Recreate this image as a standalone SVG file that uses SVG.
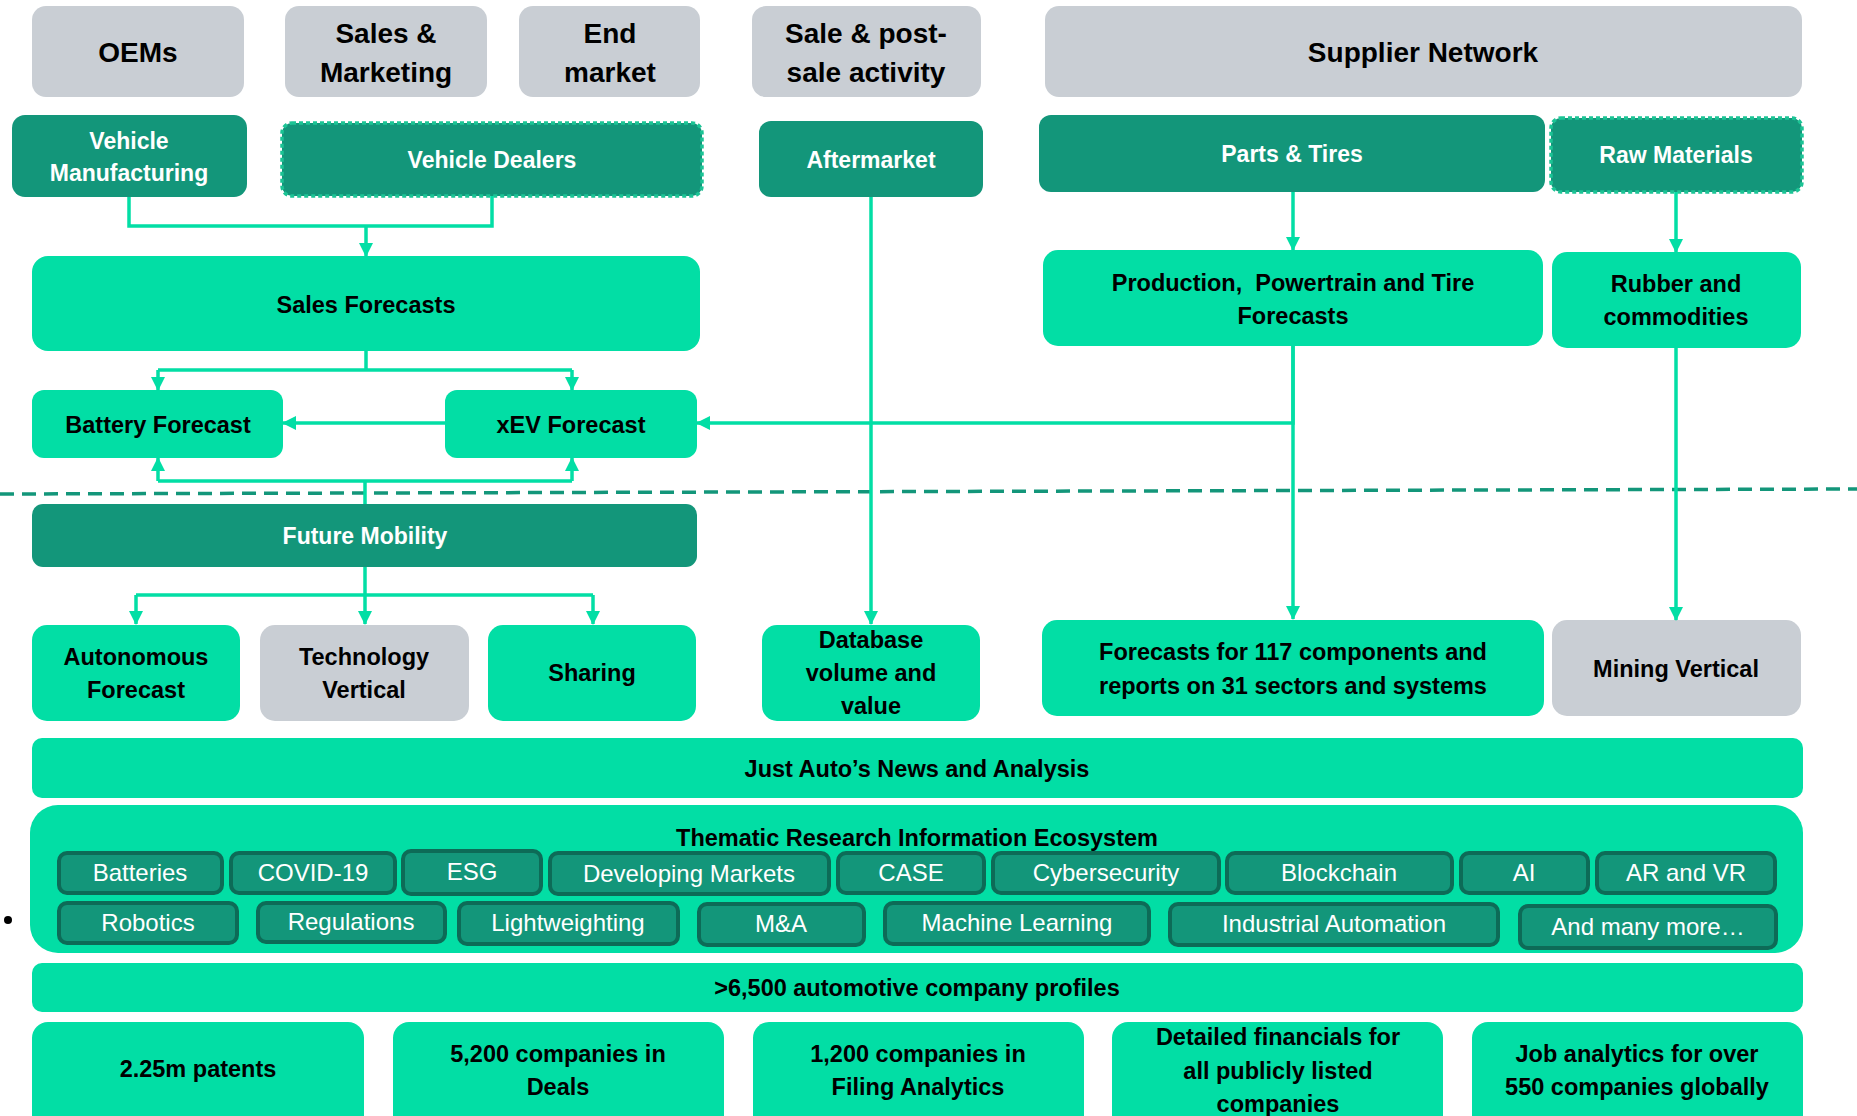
<svg xmlns="http://www.w3.org/2000/svg" width="1857" height="1116" viewBox="0 0 1857 1116">
<defs>
<style>
.hdr{fill:#C9CED4}
.dk{fill:#13967A}
.dkd{fill:#13967A;stroke:#1CC495;stroke-width:3.5;stroke-dasharray:4 3}
.br{fill:#02DEA5}
.gr{fill:#C9CED4}
.tag{fill:#13967A;stroke:#0D6B57;stroke-width:4}
text{font-family:"Liberation Sans",Arial,sans-serif;text-anchor:middle}
.th{font-size:28px;font-weight:bold;fill:#000}
.tw{font-size:23px;font-weight:bold;fill:#fff}
.tb{font-size:23.5px;font-weight:bold;fill:#000}
.tt{font-size:24px;fill:#fff}
.con{fill:none;stroke:#02DEA5;stroke-width:3.5}
.arr{marker-end:url(#ah)}
</style>
<marker id="ah" markerUnits="userSpaceOnUse" markerWidth="14" markerHeight="14" refX="13" refY="7" orient="auto">
<path d="M0,0 L14,7 L0,14 z" fill="#02DEA5"/>
</marker>
</defs>
<rect width="1857" height="1116" fill="#fff"/>

<!-- header row -->
<g id="oems"><rect class="hdr" x="32" y="6" width="212" height="91" rx="14"/><text class="th" x="138" y="62">OEMs</text></g>
<g id="sales-marketing"><rect class="hdr" x="285" y="6" width="202" height="91" rx="14"/><text class="th" x="386" y="43">Sales &amp;</text><text class="th" x="386" y="82">Marketing</text></g>
<g id="end-market"><rect class="hdr" x="519" y="6" width="181" height="91" rx="14"/><text class="th" x="610" y="43">End</text><text class="th" x="610" y="82">market</text></g>
<g id="sale-post"><rect class="hdr" x="752" y="6" width="229" height="91" rx="14"/><text class="th" x="866" y="43">Sale &amp; post-</text><text class="th" x="866" y="82">sale activity</text></g>
<g id="supplier-network"><rect class="hdr" x="1045" y="6" width="757" height="91" rx="14"/><text class="th" x="1423" y="62">Supplier Network</text></g>

<!-- row 2 -->
<g id="vehicle-manufacturing"><rect class="dk" x="12" y="115" width="235" height="82" rx="13"/><text class="tw" x="129" y="149">Vehicle</text><text class="tw" x="129" y="181">Manufacturing</text></g>
<g id="vehicle-dealers"><rect class="dkd" x="282" y="123" width="420" height="73" rx="10"/><text class="tw" x="492" y="168">Vehicle Dealers</text></g>
<g id="aftermarket"><rect class="dk" x="759" y="121" width="224" height="76" rx="12"/><text class="tw" x="871" y="168">Aftermarket</text></g>
<g id="parts-tires"><rect class="dk" x="1039" y="115" width="506" height="77" rx="12"/><text class="tw" x="1292" y="162">Parts &amp; Tires</text></g>
<g id="raw-materials"><rect class="dkd" x="1551" y="118" width="251" height="74" rx="10"/><text class="tw" x="1676" y="163">Raw Materials</text></g>

<!-- forecasts -->
<g id="sales-forecasts"><rect class="br" x="32" y="256" width="668" height="95" rx="16"/><text class="tb" x="366" y="313">Sales Forecasts</text></g>
<g id="production-forecasts"><rect class="br" x="1043" y="250" width="500" height="96" rx="15"/><text class="tb" x="1293" y="291" style="white-space:pre">Production,  Powertrain and Tire</text><text class="tb" x="1293" y="324">Forecasts</text></g>
<g id="rubber-commodities"><rect class="br" x="1552" y="252" width="249" height="96" rx="15"/><text class="tb" x="1676" y="292">Rubber and</text><text class="tb" x="1676" y="325">commodities</text></g>
<g id="battery-forecast"><rect class="br" x="32" y="390" width="251" height="68" rx="12"/><text class="tb" x="158" y="433">Battery Forecast</text></g>
<g id="xev-forecast"><rect class="br" x="445" y="390" width="252" height="68" rx="12"/><text class="tb" x="571" y="433">xEV Forecast</text></g>

<line x1="0" y1="494" x2="1857" y2="489" stroke="#13967A" stroke-width="3.5" stroke-dasharray="14 8"/>

<g id="future-mobility"><rect class="dk" x="32" y="504" width="665" height="63" rx="11"/><text class="tw" x="365" y="544">Future Mobility</text></g>
<g id="autonomous-forecast"><rect class="br" x="32" y="625" width="208" height="96" rx="15"/><text class="tb" x="136" y="665">Autonomous</text><text class="tb" x="136" y="698">Forecast</text></g>
<g id="technology-vertical"><rect class="gr" x="260" y="625" width="209" height="96" rx="15"/><text class="tb" x="364" y="665">Technology</text><text class="tb" x="364" y="698">Vertical</text></g>
<g id="sharing"><rect class="br" x="488" y="625" width="208" height="96" rx="15"/><text class="tb" x="592" y="681">Sharing</text></g>
<g id="database"><rect class="br" x="762" y="625" width="218" height="96" rx="15"/><text class="tb" x="871" y="648">Database</text><text class="tb" x="871" y="681">volume and</text><text class="tb" x="871" y="714">value</text></g>
<g id="forecasts-117"><rect class="br" x="1042" y="620" width="502" height="96" rx="15"/><text class="tb" x="1293" y="660">Forecasts for 117 components and</text><text class="tb" x="1293" y="694">reports on 31 sectors and systems</text></g>
<g id="mining-vertical"><rect class="gr" x="1552" y="620" width="249" height="96" rx="15"/><text class="tb" x="1676" y="677">Mining Vertical</text></g>

<g id="just-auto"><rect class="br" x="32" y="738" width="1771" height="60" rx="10"/><text class="tb" x="917" y="777">Just Auto’s News and Analysis</text></g>

<g id="thematic">
<rect class="br" x="30" y="805" width="1773" height="148" rx="28"/>
<text class="tb" x="917" y="846">Thematic Research Information Ecosystem</text>
<g id="tag-batteries"><rect class="tag" x="59" y="853" width="163" height="40" rx="8"/><text class="tt" x="140" y="881">Batteries</text></g>
<g id="tag-covid"><rect class="tag" x="231" y="853" width="164" height="40" rx="8"/><text class="tt" x="313" y="881">COVID-19</text></g>
<g id="tag-esg"><rect class="tag" x="403" y="851" width="138" height="43" rx="8"/><text class="tt" x="472" y="880">ESG</text></g>
<g id="tag-developing"><rect class="tag" x="550" y="853" width="279" height="41" rx="8"/><text class="tt" x="689" y="882">Developing Markets</text></g>
<g id="tag-case"><rect class="tag" x="838" y="853" width="146" height="40" rx="8"/><text class="tt" x="911" y="881">CASE</text></g>
<g id="tag-cyber"><rect class="tag" x="993" y="853" width="226" height="40" rx="8"/><text class="tt" x="1106" y="881">Cybersecurity</text></g>
<g id="tag-blockchain"><rect class="tag" x="1227" y="853" width="225" height="40" rx="8"/><text class="tt" x="1339" y="881">Blockchain</text></g>
<g id="tag-ai"><rect class="tag" x="1461" y="853" width="127" height="40" rx="8"/><text class="tt" x="1524" y="881">AI</text></g>
<g id="tag-arvr"><rect class="tag" x="1597" y="853" width="178" height="40" rx="8"/><text class="tt" x="1686" y="881">AR and VR</text></g>
<g id="tag-robotics"><rect class="tag" x="59" y="903" width="178" height="40" rx="8"/><text class="tt" x="148" y="931">Robotics</text></g>
<g id="tag-regulations"><rect class="tag" x="258" y="903" width="187" height="39" rx="8"/><text class="tt" x="351" y="930">Regulations</text></g>
<g id="tag-lightweighting"><rect class="tag" x="459" y="903" width="219" height="41" rx="8"/><text class="tt" x="568" y="931">Lightweighting</text></g>
<g id="tag-ma"><rect class="tag" x="699" y="904" width="165" height="41" rx="8"/><text class="tt" x="781" y="932">M&amp;A</text></g>
<g id="tag-ml"><rect class="tag" x="885" y="903" width="264" height="41" rx="8"/><text class="tt" x="1017" y="931">Machine Learning</text></g>
<g id="tag-industrial"><rect class="tag" x="1170" y="904" width="328" height="41" rx="8"/><text class="tt" x="1334" y="932">Industrial Automation</text></g>
<g id="tag-more"><rect class="tag" x="1520" y="906" width="256" height="42" rx="8"/><text class="tt" x="1648" y="935">And many more…</text></g>
</g>

<g id="profiles"><rect class="br" x="32" y="963" width="1771" height="49" rx="10"/><text class="tb" x="917" y="996">&gt;6,500 automotive company profiles</text></g>

<g id="patents"><rect class="br" x="32" y="1022" width="332" height="110" rx="16"/><text class="tb" x="198" y="1077">2.25m patents</text></g>
<g id="deals"><rect class="br" x="393" y="1022" width="331" height="110" rx="16"/><text class="tb" x="558" y="1062">5,200 companies in</text><text class="tb" x="558" y="1095">Deals</text></g>
<g id="filing"><rect class="br" x="753" y="1022" width="331" height="110" rx="16"/><text class="tb" x="918" y="1062">1,200 companies in</text><text class="tb" x="918" y="1095">Filing Analytics</text></g>
<g id="financials"><rect class="br" x="1112" y="1022" width="331" height="110" rx="16"/><text class="tb" x="1278" y="1045">Detailed financials for</text><text class="tb" x="1278" y="1079">all publicly listed</text><text class="tb" x="1278" y="1112">companies</text></g>
<g id="jobs"><rect class="br" x="1472" y="1022" width="331" height="110" rx="16"/><text class="tb" x="1637" y="1062">Job analytics for over</text><text class="tb" x="1637" y="1095">550 companies globally</text></g>

<circle cx="8" cy="920" r="4" fill="#000"/>

<g id="connectors">
<path class="con" d="M129,197 V226 H492 V196"/>
<path class="con arr" d="M366,226 V256"/>
<path class="con" d="M366,351 V370 M158,370 H572"/>
<path class="con arr" d="M158,370 V390"/>
<path class="con arr" d="M572,370 V390"/>
<path class="con arr" d="M445,423 H283"/>
<path class="con arr" d="M1293,346 V423 H697"/>
<path class="con arr" d="M1293,346 V619"/>
<path class="con arr" d="M1293,192 V250"/>
<path class="con arr" d="M1676,192 V252"/>
<path class="con arr" d="M1676,348 V620"/>
<path class="con arr" d="M871,197 V624"/>
<path class="con" d="M365,504 V481 M158,481 H572"/>
<path class="con arr" d="M158,481 V458"/>
<path class="con arr" d="M572,481 V458"/>
<path class="con arr" d="M365,567 V624"/>
<path class="con" d="M136,595 H593"/>
<path class="con arr" d="M136,595 V624"/>
<path class="con arr" d="M593,595 V624"/>
</g>
</svg>
